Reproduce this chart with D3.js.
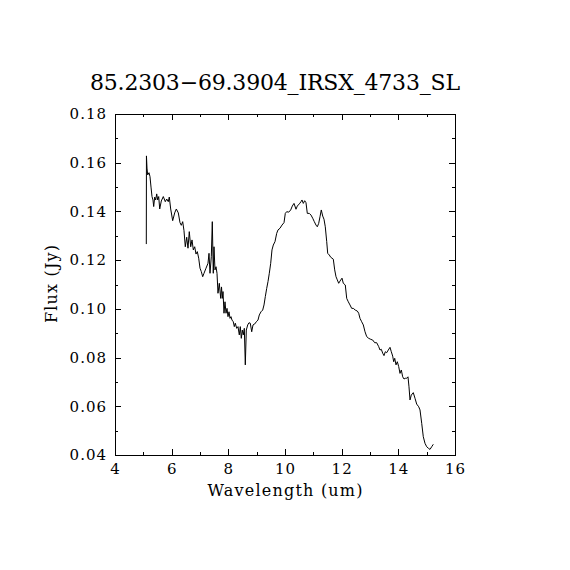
<!DOCTYPE html>
<html>
<head>
<meta charset="utf-8">
<script src="https://cdn.jsdelivr.net/npm/d3@7"></script>
<style>
  body { margin: 0; background: #fff; }
  svg { display: block; }
  .tick text, .label, .title { font-family: "DejaVu Serif", "Liberation Serif", serif; fill: #000; }
  .tick text { letter-spacing: 1px; }
  .axis path, .axis line { stroke: #000; stroke-width: 1; shape-rendering: crispEdges; }
</style>
</head>
<body>
<svg id="chart" width="570" height="570"></svg>
<script>
// spectrum
const wavelength = [
  5.105, 5.11, 5.129, 5.154, 5.200, 5.235, 5.271, 5.306, 5.341, 5.366,
  5.401, 5.436, 5.472, 5.507, 5.542, 5.578, 5.634, 5.705, 5.775, 5.825,
  5.881, 5.916, 5.966, 6.036, 6.107, 6.164, 6.234, 6.294, 6.340, 6.389,
  6.435, 6.481, 6.531, 6.576, 6.622, 6.672, 6.718, 6.764, 6.813, 6.859,
  6.905, 6.954, 7.000, 7.046, 7.095, 7.141, 7.212, 7.282, 7.318, 7.353,
  7.399, 7.434, 7.469, 7.494, 7.529, 7.565, 7.600, 7.635, 7.681, 7.731,
  7.759, 7.787, 7.812, 7.847, 7.882, 7.918, 7.953, 7.988, 8.024, 8.059,
  8.094, 8.129, 8.175, 8.211, 8.246, 8.295, 8.341, 8.387, 8.422, 8.458,
  8.493, 8.528, 8.564, 8.599, 8.634, 8.684, 8.729, 8.775, 8.825, 8.871,
  8.931, 8.987, 9.047, 9.093, 9.153, 9.213, 9.259, 9.305, 9.354, 9.400,
  9.446, 9.495, 9.541, 9.587, 9.647, 9.707, 9.753, 9.824, 9.894, 9.965,
  10.011, 10.060, 10.131, 10.201, 10.258, 10.318, 10.388, 10.434, 10.505, 10.565,
  10.600, 10.646, 10.695, 10.741, 10.787, 10.858, 10.918, 10.978, 11.034, 11.094,
  11.140, 11.189, 11.235, 11.281, 11.331, 11.376, 11.422, 11.472, 11.507, 11.564,
  11.613, 11.659, 11.705, 11.754, 11.800, 11.846, 11.895, 11.941, 12.012, 12.058,
  12.128, 12.178, 12.234, 12.294, 12.354, 12.411, 12.481, 12.552, 12.601, 12.647,
  12.707, 12.764, 12.824, 12.884, 12.954, 13.025, 13.095, 13.166, 13.236, 13.307,
  13.353, 13.399, 13.448, 13.494, 13.540, 13.589, 13.646, 13.706, 13.752, 13.801,
  13.836, 13.872, 13.918, 13.964, 14.013, 14.059, 14.105, 14.154, 14.200, 14.246,
  14.295, 14.341, 14.376, 14.412, 14.458, 14.528, 14.588, 14.648, 14.719, 14.765,
  14.825, 14.881, 14.941, 15.001, 15.058, 15.118, 15.178, 15.234
];
const flux = [
  0.1266, 0.1628, 0.1578, 0.1550, 0.1559, 0.1543, 0.1500, 0.1461, 0.1447, 0.1420,
  0.1459, 0.1447, 0.1472, 0.1447, 0.1461, 0.1410, 0.1443, 0.1461, 0.1440, 0.1451,
  0.1440, 0.1459, 0.1410, 0.1362, 0.1394, 0.1410, 0.1394, 0.1354, 0.1343, 0.1358,
  0.1321, 0.1255, 0.1294, 0.1249, 0.1317, 0.1255, 0.1283, 0.1242, 0.1255, 0.1225,
  0.1235, 0.1208, 0.1167, 0.1153, 0.1132, 0.1146, 0.1167, 0.1187, 0.1228, 0.1146,
  0.1214, 0.1358, 0.1146, 0.1255, 0.1160, 0.1173, 0.1146, 0.1064, 0.1105, 0.1043,
  0.1090, 0.1043, 0.1071, 0.0982, 0.1029, 0.0982, 0.1002, 0.0968, 0.0988, 0.0961,
  0.0968, 0.0954, 0.0947, 0.0927, 0.0941, 0.0920, 0.0927, 0.0893, 0.0927, 0.0879,
  0.0913, 0.0893, 0.0920, 0.0770, 0.0913, 0.0934, 0.0943, 0.0941, 0.0906, 0.0934,
  0.0938, 0.0947, 0.0954, 0.0975, 0.0988, 0.0995, 0.1016, 0.1050, 0.1084, 0.1112,
  0.1146, 0.1187, 0.1242, 0.1262, 0.1276, 0.1310, 0.1324, 0.1331, 0.1344, 0.1354,
  0.1392, 0.1399, 0.1397, 0.1406, 0.1422, 0.1433, 0.1409, 0.1422, 0.1431, 0.1440,
  0.1447, 0.1433, 0.1444, 0.1436, 0.1392, 0.1392, 0.1385, 0.1372, 0.1358, 0.1344,
  0.1337, 0.1351, 0.1378, 0.1406, 0.1381, 0.1368, 0.1337, 0.1276, 0.1228, 0.1221,
  0.1212, 0.1208, 0.1204, 0.1160, 0.1132, 0.1119, 0.1105, 0.1114, 0.1126, 0.1105,
  0.1098, 0.1043, 0.1029, 0.1016, 0.1002, 0.1002, 0.0995, 0.0991, 0.0982, 0.0961,
  0.0947, 0.0934, 0.0906, 0.0886, 0.0879, 0.0875, 0.0872, 0.0861, 0.0861, 0.0845,
  0.0831, 0.0834, 0.0818, 0.0808, 0.0824, 0.0820, 0.0831, 0.0842, 0.0824, 0.0806,
  0.0783, 0.0797, 0.0770, 0.0783, 0.0763, 0.0735, 0.0749, 0.0721, 0.0712, 0.0715,
  0.0715, 0.0721, 0.0680, 0.0626, 0.0646, 0.0656, 0.0633, 0.0609, 0.0598, 0.0585,
  0.0530, 0.0475, 0.0448, 0.0434, 0.0428, 0.0423, 0.0434, 0.0444
];

const xTicks = [4, 6, 8, 10, 12, 14, 16];
const xMinor = [5, 7, 9, 11, 13, 15];
const yTicks = [0.04, 0.06, 0.08, 0.10, 0.12, 0.14, 0.16, 0.18];
const yMinor = [0.05, 0.07, 0.09, 0.11, 0.13, 0.15, 0.17];
const title = "85.2303\u221269.3904_IRSX_4733_SL";

const mLeft = 115, mRight = 455, mTop = 114, mBottom = 455;

const svg = d3.select("#chart");

const x = d3.scaleLinear().domain([4, 16]).range([mLeft, mRight]);
const y = d3.scaleLinear().domain([0.04, 0.18]).range([mBottom, mTop]);

function addAxis(axisFn, scale, ticks, size, transform, labels) {
  let a = axisFn(scale).tickValues(ticks).tickSize(-size).tickPadding(8);
  if (!labels) a.tickFormat("");
  else if (axisFn === d3.axisLeft) a.tickFormat(d3.format(".2f"));
  else a.tickFormat(d3.format("d"));
  let g = svg.append("g").attr("class", "axis")
    .attr("transform", transform)
    .call(a);
  g.selectAll(".domain").remove();
  g.selectAll("text").attr("font-size", 15);
  return g;
}

// major and minor ticks on all four sides, pointing inward
addAxis(d3.axisBottom, x, xTicks, 6, `translate(0,${mBottom})`, true);
addAxis(d3.axisBottom, x, xMinor, 3, `translate(0,${mBottom})`, false);
addAxis(d3.axisTop, x, xTicks, 6, `translate(0,${mTop})`, false);
addAxis(d3.axisTop, x, xMinor, 3, `translate(0,${mTop})`, false);
addAxis(d3.axisLeft, y, yTicks, 6, `translate(${mLeft},0)`, true);
addAxis(d3.axisLeft, y, yMinor, 3, `translate(${mLeft},0)`, false);
addAxis(d3.axisRight, y, yTicks, 6, `translate(${mRight},0)`, false);
addAxis(d3.axisRight, y, yMinor, 3, `translate(${mRight},0)`, false);

// frame
svg.append("rect")
  .attr("x", mLeft).attr("y", mTop)
  .attr("width", mRight - mLeft).attr("height", mBottom - mTop)
  .attr("fill", "none").attr("stroke", "#000")
  .attr("shape-rendering", "crispEdges");

// spectrum
const pts = wavelength.map((w, i) => [w, flux[i]]);
svg.append("path")
  .datum(pts)
  .attr("fill", "none")
  .attr("stroke", "#000")
  .attr("stroke-width", 1)
  .attr("d", d3.line().x(d => x(d[0])).y(d => y(d[1])));

// labels
svg.append("text").attr("class", "title")
  .attr("x", 275).attr("y", 90)
  .attr("text-anchor", "middle")
  .attr("font-size", 22)
  .attr("textLength", 370)
  .attr("lengthAdjust", "spacing")
  .text(title);

svg.append("text").attr("class", "label")
  .attr("x", 285).attr("y", 496)
  .attr("text-anchor", "middle")
  .attr("font-size", 16)
  .attr("textLength", 155)
  .attr("lengthAdjust", "spacing")
  .text("Wavelength (um)");

svg.append("text").attr("class", "label")
  .attr("transform", `translate(57,284) rotate(-90)`)
  .attr("text-anchor", "middle")
  .attr("font-size", 16)
  .attr("textLength", 78)
  .attr("lengthAdjust", "spacing")
  .text("Flux (Jy)");
</script>
</body>
</html>
